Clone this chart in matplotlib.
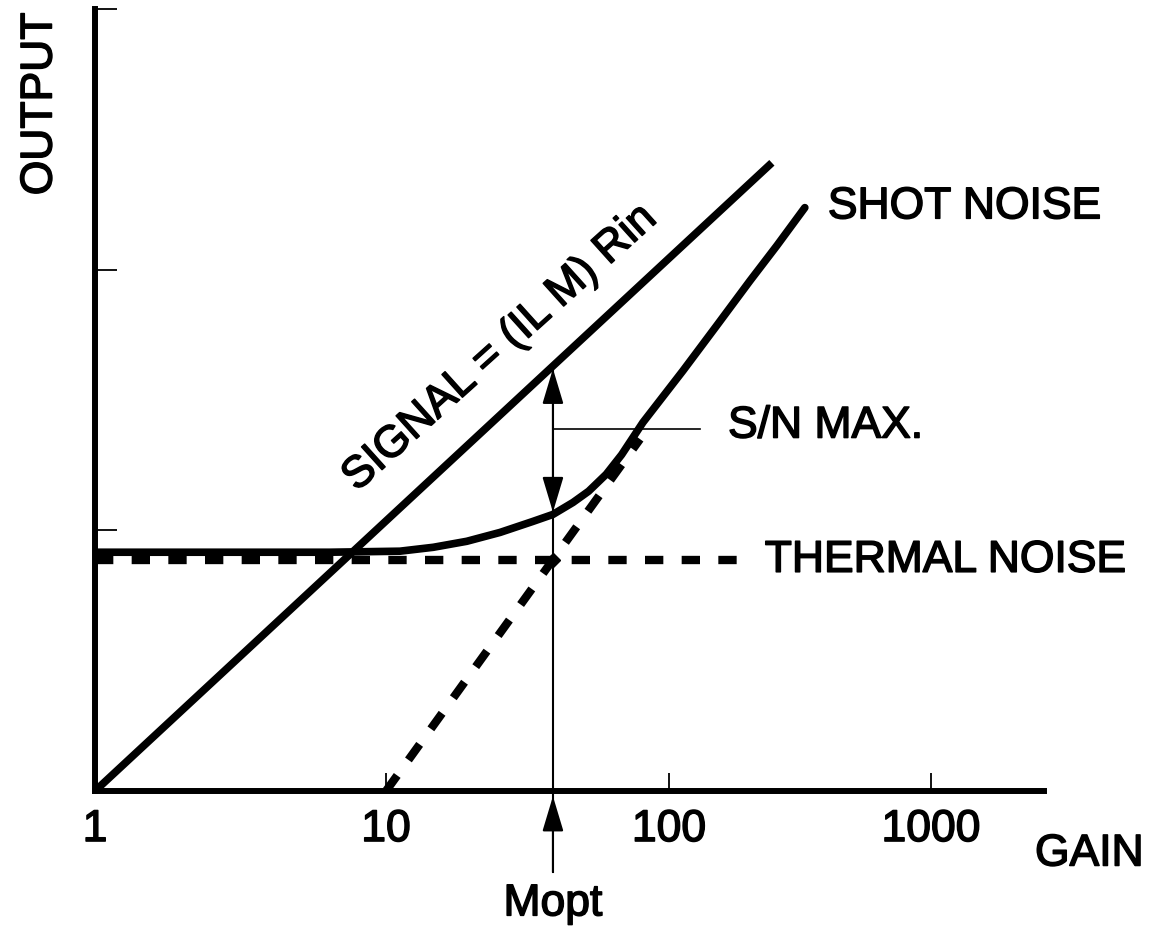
import numpy as np
import matplotlib.pyplot as plt
import matplotlib.patheffects as pe

plt.rcParams['font.family'] = ['Liberation Sans', 'DejaVu Sans']

# gain axis (log), output axis in decades
gain_ticks = [1, 10, 100, 1000]
gain_labels = ['1', '10', '100', '1000']
out_ticks = [1, 2, 3]

# signal = (IL M) Rin
signal_gain = [1, 247]
signal_out = [0, 2.41]

# thermal noise level
thermal_gain = [1, 183]
thermal_out = [0.885, 0.885]

# shot noise asymptote (rest of it is hidden under the total noise curve)
shot_gain = [10, 79]
shot_out = [0, 1.35]

# total noise
noise_gain = [1, 6.4, 11.2, 14.7, 19.3, 25.3, 33.0, 38.9, 45.8, 52.0, 60.0, 68.0,
              80.9, 113, 152, 204, 258, 330]
noise_out = [0.916, 0.916, 0.920, 0.935, 0.958, 0.992, 1.034, 1.061, 1.107,
             1.150, 1.215, 1.290, 1.414, 1.612, 1.785, 1.958, 2.092, 2.238]

m_opt = 38.9
sig_at_mopt = 1.62
noise_at_mopt = 1.07
sn_level = 1.387

# the decades on the drawing are not all the same width
dec_log = [0, 1, 2, 3, 4]
dec_pos = [0, 291, 574, 836, 1098]

def fwd(x):
    return np.interp(np.log10(np.clip(x, 1e-6, None)), dec_log, dec_pos)

def inv(p):
    return 10 ** np.interp(p, dec_pos, dec_log)

fig = plt.figure(figsize=(11.56, 9.37), dpi=100)
ax = fig.add_axes([95/1156, 1-792/937, (1044-95)/1156, (792-10)/937])
ax.set_xscale('function', functions=(fwd, inv))
ax.set_xlim(1, 2700)
ax.set_ylim(0, 3)

ax.plot(signal_gain, signal_out, color='black', lw=5.5, solid_capstyle='butt')
ax.plot(thermal_gain, thermal_out, color='black', lw=6, dashes=(2.2, 2.2))
ax.plot(shot_gain, shot_out, color='black', lw=6, dashes=(2.3, 2.3))
ax.plot(noise_gain, noise_out, color='black', lw=5.5, solid_capstyle='round',
        solid_joinstyle='round')
ax.plot([m_opt], [thermal_out[0]], 'kD', ms=7)

# Mopt line and arrows
ax.plot([m_opt, m_opt], [-0.31, sig_at_mopt], color='black', lw=1.5, clip_on=False)
head = dict(arrowstyle='-|>,head_length=1.1,head_width=0.33', mutation_scale=20,
            color='black', lw=1.5, shrinkA=0, shrinkB=0)
ax.annotate('', xy=(m_opt, sig_at_mopt), xytext=(m_opt, 1.35), arrowprops=head)
ax.annotate('', xy=(m_opt, noise_at_mopt), xytext=(m_opt, 1.35), arrowprops=head)
ax.annotate('', xy=(m_opt, -0.02), xytext=(m_opt, -0.31), arrowprops=head,
            annotation_clip=False)
ax.plot([m_opt, 131], [sn_level, sn_level], color='black', lw=1.2)

fs = 32
heavy = [pe.withStroke(linewidth=1.1, foreground='black')]
txt = dict(fontsize=fs, path_effects=heavy)
ax.text(25.3, 1.70, 'SIGNAL = (IL M) Rin', rotation=42, rotation_mode='anchor',
        ha='center', va='center', **txt)
ax.text(404, 2.241, 'SHOT NOISE', ha='left', va='center', **txt)
ax.text(168, 1.40, 'S/N MAX.', ha='left', va='center', **txt)
ax.text(232, 0.885, 'THERMAL NOISE', ha='left', va='center', **txt)
ax.text(m_opt, -0.433, 'Mopt', ha='center', va='center', **txt)
fig.text(40/1156, 1-105/937, 'OUTPUT', rotation=90, ha='center', va='center', **txt)
fig.text(1035/1156, 1-855/937, 'GAIN', ha='left', va='center', **txt)

ax.set_xticks(gain_ticks)
ax.set_xticklabels(gain_labels)
ax.minorticks_off()
ax.set_yticks(out_ticks)
ax.tick_params(axis='x', direction='in', length=13, width=1.3, pad=13, labelsize=fs)
ax.tick_params(axis='y', direction='in', length=16, width=1.3, labelleft=False)
for lab in ax.get_xticklabels():
    lab.set_path_effects(heavy)
for s in ['top', 'right']:
    ax.spines[s].set_visible(False)
for s in ['left', 'bottom']:
    ax.spines[s].set_linewidth(4.3)

fig.savefig('out.png', dpi=100)
